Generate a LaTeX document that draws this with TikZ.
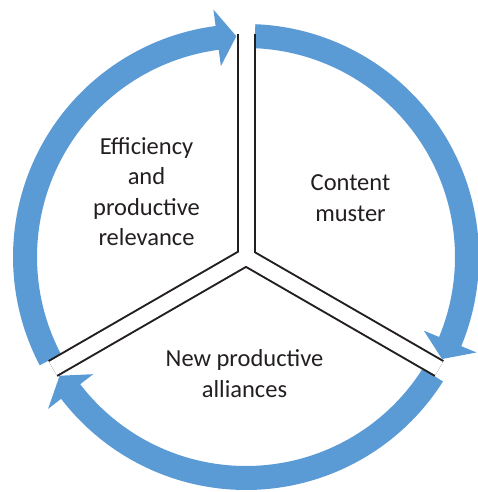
\documentclass[tikz,border=0pt]{standalone}
\usepackage{fontspec}
\setmainfont{Carlito}
\definecolor{cycleBlue}{HTML}{5B9BD5}
\definecolor{rimGray}{HTML}{231F20}

\begin{document}
\begin{tikzpicture}
[x=1pt,y=1pt,%
  arrowDecorate/.style={fill=cycleBlue,draw=none},%
  rimDecorate/.style={line width=19pt,draw=rimGray},%
  gapDecorate/.style={line width=15pt,draw=white},%
  labelDecorate/.style={align=center,inner sep=0pt,text=rimGray,%
    font=\fontsize{24.5}{30.5}\selectfont}]
\useasboundingbox (-246,-235) rectangle (232,257);
%% centre and outer ends of the separators
\coordinate (c) at (0,0);
\foreach \endname/\ang in {top/90, right/-30, left/210}
{
  \coordinate (\endname) at (\ang:223pt);
}
%% curved arrows
\foreach \tail/\tip in {87.7/-27.5, -32.3/-147.5, 207.7/92.5}
{
  \pgfmathsetmacro{\back}{\tip+5}
  \path[arrowDecorate] (\tail:233pt)
    arc[start angle=\tail, end angle=\back, radius=233pt]
    -- (\back:249.5pt) -- (\tip:221pt) -- (\back:192.5pt) -- (\back:209pt)
    arc[start angle=\back, end angle=\tail, radius=209pt] -- cycle;
}
%% separators
\foreach \endname in {top,right,left}
  \draw[rimDecorate] (c) -- (\endname);
\foreach \endname in {top,right,left}
  \draw[gapDecorate] (c) -- (\endname);
%% labels
\node (efficiency) at (-99.5,65.5) [labelDecorate] {Efficiency\\and\\productive\\relevance};
\node (content) at (104.5,59) [labelDecorate] {Content\\muster};
\node (alliances) at (-1.5,-116.5) [labelDecorate] {New productive\\alliances};
\end{tikzpicture}
\end{document}
